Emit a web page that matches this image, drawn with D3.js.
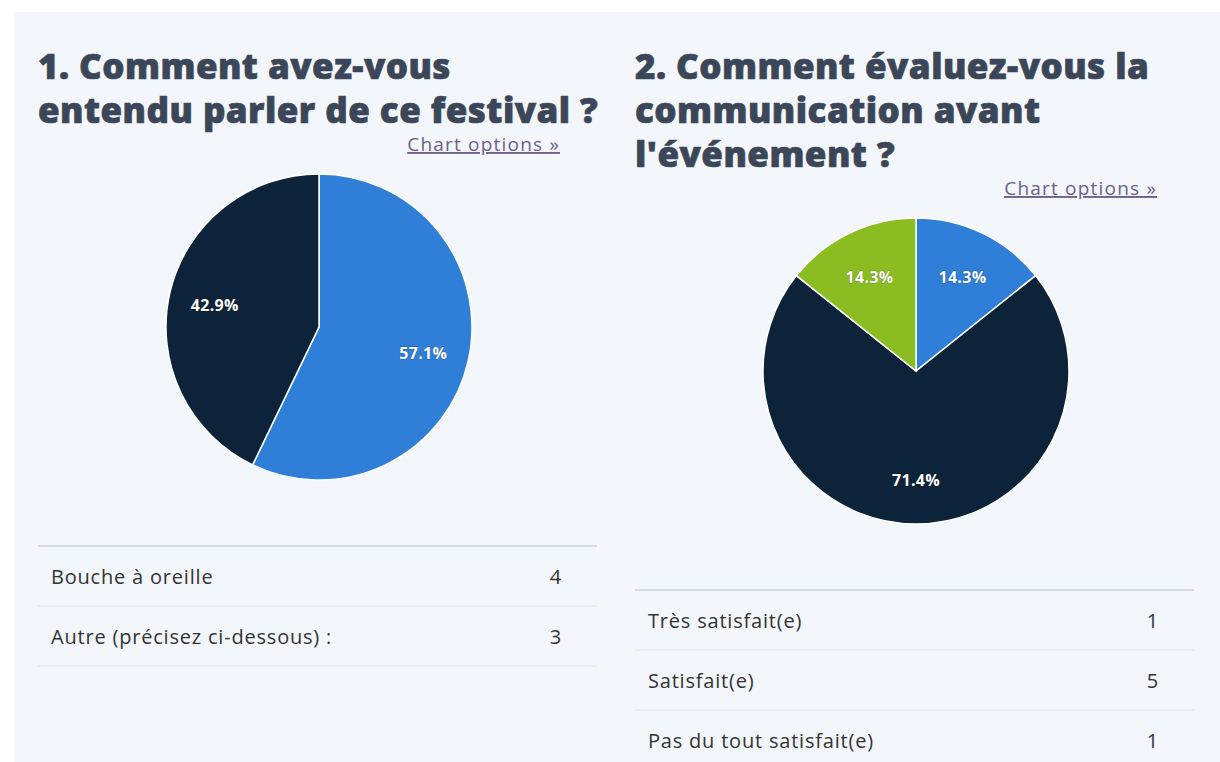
<!DOCTYPE html>
<html>
<head>
<meta charset="utf-8">
<script src="https://cdn.jsdelivr.net/npm/d3@7"></script>
<style>
  body { margin: 0; background: #ffffff; }
  svg { display: block; }
  .title { font-family: "Open Sans", sans-serif; font-weight: 800; fill: #3b4759; stroke: #3b4759; stroke-width: 0.7px; }
  .opts { font-family: "Open Sans", sans-serif; font-size: 19px; letter-spacing: 1.2px; fill: #6e5f8c; text-decoration: underline; }
  .label { font-family: "Open Sans", sans-serif; font-weight: 700; font-size: 16px; letter-spacing: 0.3px; fill: #ffffff; }
  .cell { font-family: "Open Sans", sans-serif; font-size: 20px; letter-spacing: 0.8px; fill: #333333; }
</style>
</head>
<body>
<script>
// DATA

const q1Title = ["1. Comment avez-vous", "entendu parler de ce festival ?"];
const q1Categories = ["Bouche à oreille", "Autre (précisez ci-dessous) :"];
const q1Values = [4, 3];

const q2Title = ["2. Comment évaluez-vous la", "communication avant", "l'événement ?"];
const q2Categories = ["Très satisfait(e)", "Satisfait(e)", "Pas du tout satisfait(e)"];
const q2Values = [1, 5, 1];

const colors = ["#2f7ed8", "#0d233a", "#8bbc21"];

const w = 1220, h = 762;

const svg = d3.select("body")
  .append("svg")
  .attr("width", w)
  .attr("height", h);

// light panel behind both questions
svg.append("rect")
  .attr("x", 14)
  .attr("y", 12)
  .attr("width", w - 14)
  .attr("height", h - 12)
  .attr("fill", "#f3f7fb");

// draw one question block: title, link, pie and table
function drawQuestion(x0, titleLines, categories, values) {
  const colW = 559;
  const g = svg.append("g").attr("transform", `translate(${x0}, 0)`);

  // title lines
  g.selectAll("text.title")
    .data(titleLines)
    .enter()
    .append("text")
    .attr("class", "title")
    .attr("x", 0)
    .attr("y", (d, i) => 79 + i * 44)
    .attr("font-size", 35)
    .attr("letter-spacing", "0.45px")
    .text(d => d);

  const top = 78 + (titleLines.length - 1) * 44;

  g.append("text")
    .attr("class", "opts")
    .attr("x", colW - 37)
    .attr("y", top + 29)
    .attr("text-anchor", "end")
    .text("Chart options »");

  // pie
  const radius = 153;
  const cx = 281, cy = top + 205;

  const pie = d3.pie().sort(null);
  const arc = d3.arc().innerRadius(0).outerRadius(radius);
  const labelArc = d3.arc().innerRadius(107).outerRadius(107);
  const total = d3.sum(values);

  const arcs = g.append("g")
    .attr("transform", `translate(${cx}, ${cy})`)
    .selectAll("g")
    .data(pie(values))
    .enter()
    .append("g");

  arcs.append("path")
    .attr("d", arc)
    .attr("fill", (d, i) => colors[i])
    .attr("stroke", "#ffffff")
    .attr("stroke-width", 1.5);

  arcs.append("text")
    .attr("class", "label")
    .attr("transform", d => `translate(${labelArc.centroid(d)})`)
    .attr("text-anchor", "middle")
    .attr("dy", "0.5em")
    .style("paint-order", "stroke")
    .style("stroke", "rgba(0,0,0,0.25)")
    .style("stroke-width", "1px")
    .text(d => d3.format(".1f")(d.value / total * 100) + "%");

  // table
  const tableTop = cy + 219;
  const rowH = 60;

  g.append("line")
    .attr("x1", 0).attr("x2", colW)
    .attr("y1", tableTop).attr("y2", tableTop)
    .attr("stroke", "#d5dbe2")
    .attr("stroke-width", 2);

  const rows = g.selectAll("g.row")
    .data(categories)
    .enter()
    .append("g")
    .attr("class", "row")
    .attr("transform", (d, i) => `translate(0, ${tableTop + i * rowH})`);

  rows.append("text")
    .attr("class", "cell")
    .attr("x", 13)
    .attr("y", 31)
    .attr("dy", "0.35em")
    .text(d => d);

  rows.append("text")
    .attr("class", "cell")
    .attr("x", colW - 35)
    .attr("y", 31)
    .attr("dy", "0.35em")
    .attr("text-anchor", "end")
    .text((d, i) => values[i]);

  rows.append("line")
    .attr("x1", 0).attr("x2", colW)
    .attr("y1", rowH).attr("y2", rowH)
    .attr("stroke", "#e1e6ec")
    .attr("stroke-width", 1);
}

drawQuestion(38, q1Title, q1Categories, q1Values);
drawQuestion(635, q2Title, q2Categories, q2Values);
</script>
</body>
</html>
